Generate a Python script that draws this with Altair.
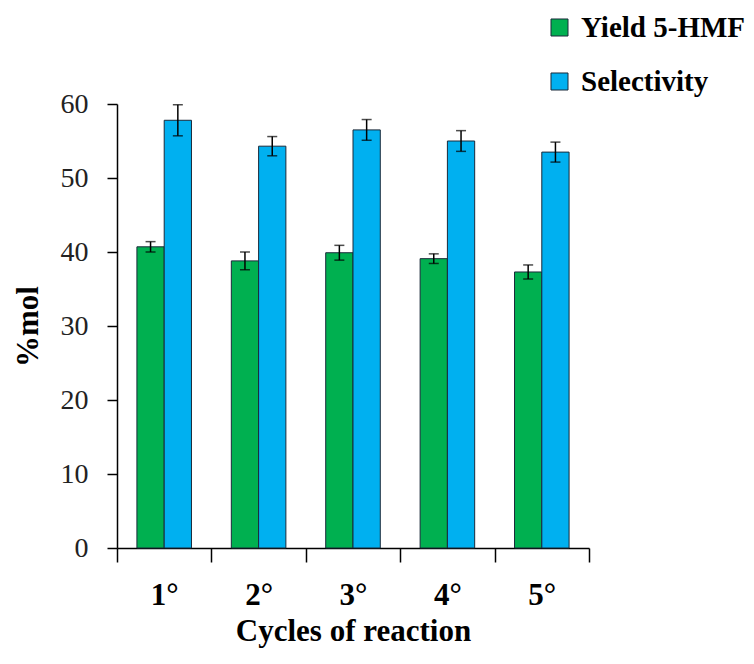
import altair as alt
import pandas as pd

cycles = ["1°", "2°", "3°", "4°", "5°"]
series = ["Yield 5-HMF", "Selectivity"]
yield_vals = [40.7, 38.8, 39.9, 39.1, 37.3]
yield_err = [0.7, 1.2, 1.0, 0.65, 0.95]
sel_vals = [57.8, 54.3, 56.5, 55.0, 53.5]
sel_err = [2.1, 1.3, 1.4, 1.4, 1.35]
colors = ["#00B050", "#00B0F0"]

rows = []
for i, c in enumerate(cycles):
    rows.append({"cycle": c, "series": series[0], "value": yield_vals[i], "err": yield_err[i]})
    rows.append({"cycle": c, "series": series[1], "value": sel_vals[i], "err": sel_err[i]})
df = pd.DataFrame(rows)
df["lo"] = df["value"] - df["err"]
df["hi"] = df["value"] + df["err"]

FONT = "'Liberation Serif', 'DejaVu Serif', serif"

x = alt.X("cycle:N", sort=cycles, title="Cycles of reaction",
          scale=alt.Scale(paddingInner=0, paddingOuter=0),
          axis=alt.Axis(labelAngle=0, tickBand="extent", tickSize=14, labelPadding=18,
                        labelFontSize=31, labelFontWeight="bold", titleFontSize=31,
                        titleFontWeight="bold", titlePadding=6, domainWidth=1.5,
                        tickWidth=1.5, domainColor="black", tickColor="black",
                        labelColor="black", titleColor="black",
                        labelFont=FONT, titleFont=FONT))
xo = alt.XOffset("series:N", sort=series, scale=alt.Scale(paddingOuter=0.73, paddingInner=0))

base = alt.Chart(df)

bars = base.mark_bar(stroke="#1a2a3a", strokeWidth=1).encode(
    x=x, xOffset=xo,
    y=alt.Y("value:Q", title="%mol", scale=alt.Scale(domain=[0, 60]),
            axis=alt.Axis(values=[0, 10, 20, 30, 40, 50, 60], grid=False, tickSize=10,
                          labelFontSize=28, titleFontSize=31, titleFontWeight="bold",
                          titlePadding=16, labelPadding=19, domainWidth=1.5, tickWidth=1.5,
                          domainColor="black", tickColor="black", labelColor="#222",
                          titleColor="black", labelFont=FONT, titleFont=FONT)),
    color=alt.Color("series:N", sort=series, scale=alt.Scale(domain=series, range=colors),
                    legend=alt.Legend(title=None, orient="none", legendX=428, legendY=-91,
                                      symbolType="square", symbolSize=290,
                                      symbolStrokeColor="#1a2a3a", symbolStrokeWidth=1,
                                      labelFontSize=29, labelFontWeight="bold",
                                      labelFont=FONT,
                                      labelColor="black", rowPadding=24, labelOffset=7,
                                      labelLimit=400)),
)

rule = base.mark_rule(color="black", strokeWidth=1.5).encode(
    x=alt.X("cycle:N", sort=cycles), xOffset=xo, y="lo:Q", y2="hi:Q")
cap_hi = base.mark_tick(color="black", thickness=1.5, size=10, orient="horizontal").encode(
    x=alt.X("cycle:N", sort=cycles), xOffset=xo, y="hi:Q")
cap_lo = base.mark_tick(color="black", thickness=1.5, size=10, orient="horizontal").encode(
    x=alt.X("cycle:N", sort=cycles), xOffset=xo, y="lo:Q")

chart = alt.layer(bars, rule, cap_hi, cap_lo).properties(
    width=472, height=444,
    autosize=alt.AutoSizeParams(type="none"),
    padding={"left": 109, "top": 96, "right": 157, "bottom": 106},
).configure(font=FONT).configure_view(stroke=None)

chart.save("out.html", embed_options={"renderer": "svg", "actions": False})
